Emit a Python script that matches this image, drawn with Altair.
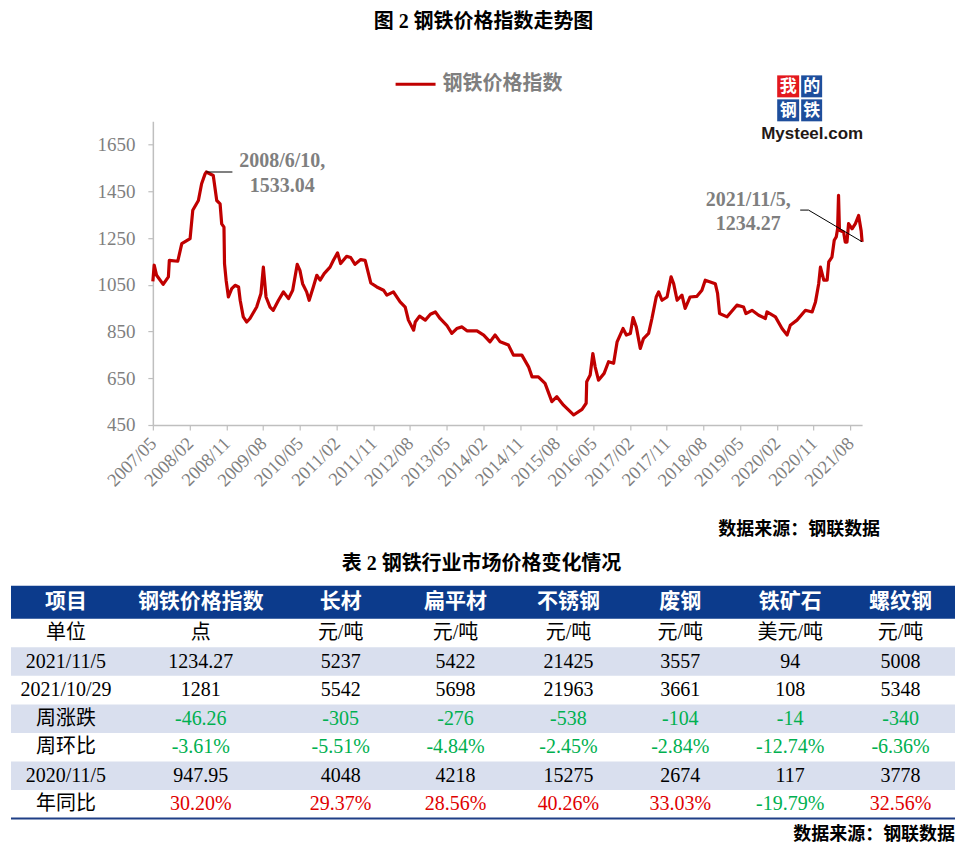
import altair as alt
import pandas as pd

# ---------------- line series ----------------
DATES = [
    "2007-05-08", "2007-05-18", "2007-06-05", "2007-07-24", "2007-09-01", "2007-09-08",
    "2007-11-10", "2007-12-10", "2008-02-10", "2008-03-01", "2008-04-12", "2008-05-06",
    "2008-06-01", "2008-06-10", "2008-08-01", "2008-08-27", "2008-09-21", "2008-10-03",
    "2008-10-20", "2008-10-24", "2008-11-05", "2008-11-22", "2008-12-17", "2009-01-11",
    "2009-02-06", "2009-02-18", "2009-03-13", "2009-04-08", "2009-05-02", "2009-06-21",
    "2009-07-23", "2009-08-10", "2009-08-30", "2009-09-29", "2009-10-23", "2009-12-01",
    "2010-01-07", "2010-02-14", "2010-03-17", "2010-04-20", "2010-05-10", "2010-05-30",
    "2010-06-29", "2010-07-18", "2010-08-18", "2010-09-13", "2010-10-08", "2010-11-07",
    "2010-12-21", "2011-01-15", "2011-02-15", "2011-03-10", "2011-04-24", "2011-05-24",
    "2011-06-25", "2011-08-07", "2011-09-09", "2011-10-21", "2011-12-05", "2012-01-24",
    "2012-02-18", "2012-04-07", "2012-05-27", "2012-07-04", "2012-07-28", "2012-09-05",
    "2012-09-17", "2012-10-19", "2012-12-01", "2013-01-08", "2013-02-14", "2013-03-21",
    "2013-05-10", "2013-06-17", "2013-07-24", "2013-09-01", "2013-10-08", "2013-12-22",
    "2014-02-10", "2014-03-29", "2014-05-06", "2014-06-13", "2014-08-14", "2014-09-20",
    "2014-11-22", "2015-01-11", "2015-02-06", "2015-03-25", "2015-05-14", "2015-07-04",
    "2015-08-10", "2015-09-29", "2015-12-13", "2016-02-14", "2016-03-16", "2016-03-20",
    "2016-04-15", "2016-05-05", "2016-05-22", "2016-06-16", "2016-07-28", "2016-08-30",
    "2016-10-07", "2016-11-02", "2016-12-16", "2017-01-10", "2017-02-09", "2017-03-01",
    "2017-03-25", "2017-04-24", "2017-05-18", "2017-06-25", "2017-07-20", "2017-08-21",
    "2017-09-08", "2017-10-03", "2017-11-10", "2017-12-10", "2017-12-29", "2018-01-24",
    "2018-03-01", "2018-03-25", "2018-05-01", "2018-06-21", "2018-07-28", "2018-08-22",
    "2018-11-05", "2018-11-22", "2018-12-07", "2019-02-01", "2019-04-15", "2019-06-04",
    "2019-06-22", "2019-08-06", "2019-09-25", "2019-11-14", "2019-11-26", "2020-01-28",
    "2020-03-17", "2020-04-24", "2020-05-18", "2020-07-07", "2020-09-08", "2020-10-28",
    "2020-11-05", "2020-11-22", "2020-12-16", "2020-12-29", "2021-01-23", "2021-02-17",
    "2021-03-01", "2021-03-25", "2021-04-11", "2021-04-26", "2021-05-06", "2021-05-13",
    "2021-05-20", "2021-06-20", "2021-07-02", "2021-07-15", "2021-07-27", "2021-08-22",
    "2021-09-16", "2021-10-10", "2021-10-29", "2021-11-05",
]
INDEX = [
    1065, 1134, 1091, 1052, 1084, 1155,
    1151, 1226, 1248, 1369, 1411, 1483,
    1525, 1533.04, 1518, 1411, 1397, 1311,
    1297, 1141, 1070, 998, 1034, 1048,
    1041, 984, 913, 891, 906, 955,
    1013, 1126, 998, 955, 941, 984,
    1020, 991, 1027, 1138, 1112, 1055,
    1020, 984, 1041, 1091, 1070, 1098,
    1126, 1155, 1187, 1141, 1172, 1167,
    1138, 1158, 1155, 1058, 1041, 1027,
    1006, 1020, 977, 955, 899, 856,
    891, 916, 899, 924, 934, 906,
    877, 842, 863, 870, 853, 853,
    835, 806, 835, 806, 792, 749,
    749, 699, 656, 656, 628, 550,
    571, 535, 493, 517, 543, 635,
    664, 756, 699, 642, 671, 721,
    714, 806, 863, 835, 842, 910,
    870, 778, 820, 842, 906, 998,
    1020, 984, 998, 1084, 1055, 984,
    1006, 949, 998, 1001, 1027, 1070,
    1055, 1013, 927, 913, 963, 955,
    927, 941, 920, 906, 934, 913,
    863, 835, 877, 899, 941, 934,
    947.95, 977, 1055, 1126, 1070, 1070,
    1148, 1169, 1241, 1255, 1290, 1433,
    1284, 1276, 1233, 1233, 1312, 1290,
    1312, 1347, 1281, 1234.27,
]

X_TICK_LABELS = ["2007/05", "2008/02", "2008/11", "2009/08", "2010/05", "2011/02",
                 "2011/11", "2012/08", "2013/05", "2014/02", "2014/11", "2015/08",
                 "2016/05", "2017/02", "2017/11", "2018/08", "2019/05", "2020/02",
                 "2020/11", "2021/08"]
Y_TICKS = [450, 650, 850, 1050, 1250, 1450, 1650]
Y_DOMAIN = [450, 1750]

ANNOT_DATES = ["2008-06-10", "2021-11-05"]
ANNOT_VALUES = [1533.04, 1234.27]
ANNOT_LINES = [["2008/6/10,", "1533.04"], ["2021/11/5,", "1234.27"]]

LEADER_GROUP = ["peak", "peak", "last", "last", "last"]
LEADER_DATES = ["2008-06-10", "2008-12-22", "2021-11-05", "2020-10-01", "2020-07-31"]
LEADER_VALUES = [1533.04, 1533.04, 1234.27, 1370, 1370]

TITLE = "图 2 钢铁价格指数走势图"
LEGEND_LABEL = "钢铁价格指数"
TABLE_TITLE = "表 2 钢铁行业市场价格变化情况"
SOURCE = "数据来源：钢联数据"
LOGO_CHARS = ["我", "的", "钢", "铁"]
LOGO_TEXT = "Mysteel.com"

# ---------------- table ----------------
HEADERS = ["项目", "钢铁价格指数", "长材", "扁平材", "不锈钢", "废钢", "铁矿石", "螺纹钢"]
UNITS = ["单位", "点", "元/吨", "元/吨", "元/吨", "元/吨", "美元/吨", "元/吨"]
ROW_LABELS = ["2021/11/5", "2021/10/29", "周涨跌", "周环比", "2020/11/5", "年同比"]
CUR = ["1234.27", "5237", "5422", "21425", "3557", "94", "5008"]
PREV = ["1281", "5542", "5698", "21963", "3661", "108", "5348"]
WEEK_CHG = ["-46.26", "-305", "-276", "-538", "-104", "-14", "-340"]
WEEK_PCT = ["-3.61%", "-5.51%", "-4.84%", "-2.45%", "-2.84%", "-12.74%", "-6.36%"]
YEAR_AGO = ["947.95", "4048", "4218", "15275", "2674", "117", "3778"]
YEAR_PCT = ["30.20%", "29.37%", "28.56%", "40.26%", "33.03%", "-19.79%", "32.56%"]

# layout (pixels)
COL_W = [110, 160, 120, 110, 116, 108, 112, 109]
ROW_H = [33, 28.6, 28.6, 28.6, 28.6, 28.6, 28.6, 28.6]

# ---------------- styles ----------------
SERIF = "Liberation Serif, Noto Sans CJK SC"
CJK = "Noto Sans CJK SC"
LINE_RED = "#C00000"
GRAY = "#7F7F7F"
AXIS_GRAY = "#BFBFBF"
NAVY = "#0C3B8C"
BAND = "#D9DFEE"
GREEN = "#00B050"
RED = "#E00000"

ONE = pd.DataFrame({"k": [0]})


def dt(label, day=8):
    y, m = label.split("/")
    return alt.DateTime(year=int(y), month=int(m), date=day)


X_SCALE = alt.Scale(domain=[alt.DateTime(year=2007, month=5, date=8),
                            alt.DateTime(year=2021, month=11, date=5)])
Y_SCALE = alt.Scale(domain=Y_DOMAIN, nice=False, zero=False)
X_AXIS = alt.Axis(values=[dt(t) for t in X_TICK_LABELS], format="%Y/%m", labelAngle=-45,
                  labelAlign="right", labelBaseline="middle", labelPadding=10,
                  labelFont="Liberation Serif", labelFontSize=18.5, labelColor=GRAY,
                  domainColor=AXIS_GRAY, domainWidth=1.5, tickColor=AXIS_GRAY, tickSize=5,
                  tickWidth=1.2, grid=False, title=None, labelOverlap=False, labelFlush=False)
Y_AXIS = alt.Axis(values=Y_TICKS, format="d", labelFont="Liberation Serif", labelFontSize=19,
                  labelColor=GRAY, labelPadding=13, domainColor=AXIS_GRAY, domainWidth=1.5,
                  tickColor=AXIS_GRAY, tickSize=5, tickWidth=1.2, grid=False, title=None)
XE = alt.X("date:T", scale=X_SCALE, axis=X_AXIS)
YE = alt.Y("value:Q", scale=Y_SCALE, axis=Y_AXIS)

series = pd.DataFrame({"date": DATES, "value": INDEX})
line = alt.Chart(series).mark_line(color=LINE_RED, strokeWidth=3.2, strokeJoin="round").encode(
    x=XE, y=YE)

leaders_df = pd.DataFrame({"g": LEADER_GROUP, "date": LEADER_DATES, "value": LEADER_VALUES,
                           "o": list(range(len(LEADER_DATES)))})
leaders = alt.Chart(leaders_df).mark_line(color="black", strokeWidth=1).encode(
    x=XE, y=YE, detail="g:N", order="o:Q")

annot_offsets = [(76, [-11, 14]), (-114, [-42, -18])]
annots = []
for d, v, lines, (dx, dys) in zip(ANNOT_DATES, ANNOT_VALUES, ANNOT_LINES, annot_offsets):
    for txt, dy in zip(lines, dys):
        df = pd.DataFrame({"date": [d], "value": [v], "label": [txt]})
        annots.append(alt.Chart(df).mark_text(
            font="Liberation Serif", fontSize=20, fontWeight="bold", color=GRAY,
            align="center", baseline="middle", dx=dx, dy=dy).encode(x=XE, y=YE, text="label:N"))

title = alt.Chart(ONE).mark_text(font=SERIF, fontSize=20, fontWeight="bold", color="black",
                                 align="center", baseline="middle").encode(
    x=alt.value(331), y=alt.value(-99), text=alt.value(TITLE))

legend_line = alt.Chart(ONE).mark_rule(color=LINE_RED, strokeWidth=3).encode(
    x=alt.value(243), x2=alt.value(283), y=alt.value(-37))
legend_text = alt.Chart(ONE).mark_text(font=CJK, fontSize=20, fontWeight="bold", color=GRAY,
                                       align="left", baseline="middle").encode(
    x=alt.value(290), y=alt.value(-37), text=alt.value(LEGEND_LABEL))

logo_layers = []
cells = [(625, 647, -46, -24, "#E3191E"), (649, 670, -46, -24, "#1E4E9C"),
         (625, 647, -22, 0, "#1E4E9C"), (649, 670, -22, 0, "#1E4E9C")]
for ch, (x0, x1, y0, y1, col) in zip(LOGO_CHARS, cells):
    logo_layers.append(alt.Chart(ONE).mark_rect(color=col).encode(
        x=alt.value(x0), x2=alt.value(x1), y=alt.value(y0), y2=alt.value(y1)))
    logo_layers.append(alt.Chart(ONE).mark_text(font=CJK, fontSize=17, fontWeight="bold",
                                                color="white", align="center",
                                                baseline="middle").encode(
        x=alt.value((x0 + x1) / 2), y=alt.value((y0 + y1) / 2 + 1), text=alt.value(ch)))
logo_layers.append(alt.Chart(ONE).mark_text(font="Liberation Sans", fontSize=17,
                                            fontWeight="bold", color="#231815",
                                            align="center", baseline="middle").encode(
    x=alt.value(660), y=alt.value(13), text=alt.value(LOGO_TEXT)))

source1 = alt.Chart(ONE).mark_text(font=CJK, fontSize=18, fontWeight="bold", color="black",
                                   align="right", baseline="middle").encode(
    x=alt.value(728), y=alt.value(409), text=alt.value(SOURCE))

chart_group = alt.layer(line, leaders, *annots, title, legend_line, legend_text,
                        *logo_layers, source1)

# ---------------- table group ----------------
xe = [0]
for w in COL_W:
    xe.append(xe[-1] + w)
ye = [0]
for h in ROW_H:
    ye.append(ye[-1] + h)

TX = alt.Scale(domain=[0, xe[-1]], range=[-142, 803], nice=False, zero=False)
TY = alt.Scale(domain=[0, ye[-1]], range=[465, 698], nice=False, zero=False)

rows_text = [HEADERS, UNITS,
             [ROW_LABELS[0]] + CUR, [ROW_LABELS[1]] + PREV,
             [ROW_LABELS[2]] + WEEK_CHG, [ROW_LABELS[3]] + WEEK_PCT,
             [ROW_LABELS[4]] + YEAR_AGO, [ROW_LABELS[5]] + YEAR_PCT]
change_rows = {4, 5, 7}
recs = []
for r, texts in enumerate(rows_text):
    for c, t in enumerate(texts):
        color = "#000000"
        if r in change_rows and c > 0:
            color = GREEN if t.startswith("-") else RED
        recs.append({"cx": (xe[c] + xe[c + 1]) / 2, "cy": (ye[r] + ye[r + 1]) / 2,
                     "text": t, "color": color, "header": r == 0})
cells_df = pd.DataFrame(recs)

band_rows = [(0, NAVY), (2, BAND), (4, BAND), (6, BAND)]
bands_df = pd.DataFrame({"x0": [0] * len(band_rows), "x1": [xe[-1]] * len(band_rows),
                         "y0": [ye[r] for r, _ in band_rows],
                         "y1": [ye[r + 1] for r, _ in band_rows],
                         "fill": [c for _, c in band_rows]})
bands = alt.Chart(bands_df).mark_rect().encode(
    x=alt.X("x0:Q", scale=TX, axis=None), x2="x1:Q",
    y=alt.Y("y0:Q", scale=TY, axis=None), y2="y1:Q",
    color=alt.Color("fill:N", scale=None))

border_df = pd.DataFrame({"x0": [0], "x1": [xe[-1]], "y0": [ye[-1]]})
border = alt.Chart(border_df).mark_rule(color="#1F3F86", strokeWidth=2).encode(
    x=alt.X("x0:Q", scale=TX, axis=None), x2="x1:Q",
    y=alt.Y("y0:Q", scale=TY, axis=None))

header_text = alt.Chart(cells_df[cells_df["header"]]).mark_text(
    font=CJK, fontSize=21, fontWeight="bold", color="white", align="center",
    baseline="middle").encode(
    x=alt.X("cx:Q", scale=TX, axis=None), y=alt.Y("cy:Q", scale=TY, axis=None), text="text:N")

body_text = alt.Chart(cells_df[~cells_df["header"]]).mark_text(
    font=SERIF, fontSize=20, align="center", baseline="middle").encode(
    x=alt.X("cx:Q", scale=TX, axis=None), y=alt.Y("cy:Q", scale=TY, axis=None), text="text:N",
    color=alt.Color("color:N", scale=None))

table_title = alt.Chart(ONE).mark_text(font=SERIF, fontSize=20, fontWeight="bold",
                                       color="black", align="center", baseline="middle").encode(
    x=alt.value(329), y=alt.value(443), text=alt.value(TABLE_TITLE))
source2 = alt.Chart(ONE).mark_text(font=CJK, fontSize=18, fontWeight="bold", color="black",
                                   align="right", baseline="middle").encode(
    x=alt.value(803), y=alt.value(714), text=alt.value(SOURCE))

table_group = alt.layer(bands, border, header_text, body_text, table_title, source2)

chart = alt.layer(chart_group, table_group).resolve_scale(
    x="independent", y="independent").properties(
    width=710, height=304, background="white",
    padding={"left": 2, "top": 4, "right": 2, "bottom": 0}
).configure_view(stroke=None)

chart.save("out.html", embed_options={"renderer": "svg", "actions": False})
